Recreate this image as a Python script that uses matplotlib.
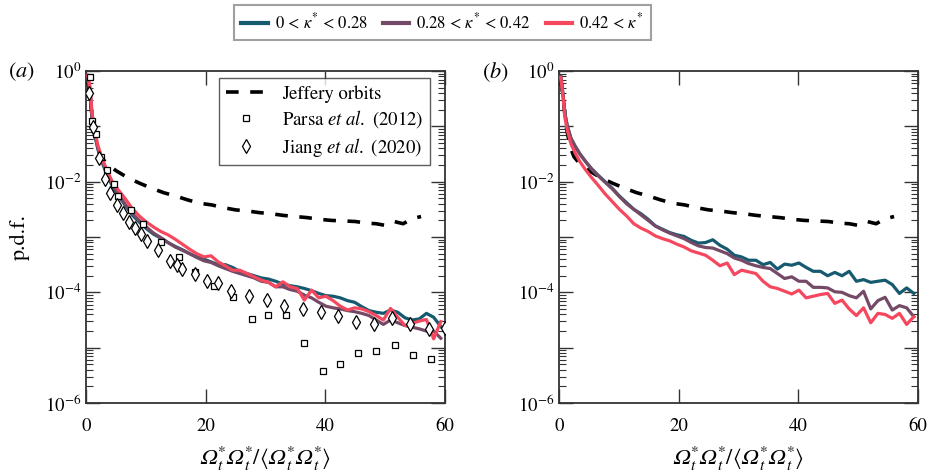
import numpy as np
import matplotlib
matplotlib.use("Agg")
import matplotlib.pyplot as plt
from matplotlib.ticker import LogLocator, FuncFormatter, NullFormatter, FixedLocator
from matplotlib.lines import Line2D

plt.rcParams['font.family'] = ['STIXGeneral', 'DejaVu Serif']
plt.rcParams['mathtext.fontset'] = 'custom'
plt.rcParams['mathtext.rm'] = 'STIXGeneral'
plt.rcParams['mathtext.it'] = 'STIXGeneral:italic'
plt.rcParams['mathtext.bf'] = 'STIXGeneral:bold'
plt.rcParams['mathtext.fallback'] = 'stix'

# ---------------- data ----------------
# common bin centres for the simulated curves
x_bins = [0.3, 0.7, 1.0, 1.4, 2.0, 2.7, 3.5, 4.4, 5.4, 6.5,
          7.7, 8.9, 10.1, 11.3, 12.5, 13.7, 14.9, 16.1, 17.3, 18.5,
          19.7, 20.9, 22.1, 23.3, 24.5, 25.7, 26.9, 28.1, 29.3, 30.5,
          31.7, 32.9, 34.1, 35.3, 36.5, 37.7, 38.9, 40.1, 41.3, 42.5,
          43.7, 44.9, 46.1, 47.3, 48.5, 49.7, 50.9, 52.1, 53.3, 54.5,
          55.7, 56.9, 58.1, 59.3]

# log10(p.d.f.) values, panel (a)
a_low = [-0.12, -0.40, -0.85, -1.12, -1.42, -1.65, -1.88, -2.08, -2.25, -2.42,
         -2.60, -2.73, -2.85, -2.95, -3.02, -3.10, -3.17, -3.23, -3.30, -3.36,
         -3.40, -3.45, -3.50, -3.50, -3.55, -3.62, -3.66, -3.70, -3.74, -3.76,
         -3.80, -3.85, -3.88, -3.90, -3.93, -3.97, -4.02, -4.06, -4.07, -4.10,
         -4.15, -4.18, -4.26, -4.33, -4.36, -4.38, -4.32, -4.36, -4.46, -4.50,
         -4.48, -4.38, -4.45, -4.62]
a_mid = [-0.12, -0.40, -0.85, -1.12, -1.40, -1.62, -1.85, -2.05, -2.22, -2.40,
         -2.57, -2.70, -2.82, -2.93, -3.01, -3.10, -3.18, -3.24, -3.30, -3.37,
         -3.43, -3.46, -3.52, -3.57, -3.62, -3.66, -3.70, -3.74, -3.80, -3.82,
         -3.90, -3.90, -3.95, -3.98, -4.05, -4.10, -4.18, -4.25, -4.28, -4.30,
         -4.33, -4.35, -4.38, -4.42, -4.50, -4.58, -4.50, -4.55, -4.60, -4.63,
         -4.66, -4.70, -4.70, -4.83]
a_high = [-0.08, -0.30, -0.75, -1.05, -1.35, -1.58, -1.80, -2.00, -2.15, -2.30,
          -2.48, -2.62, -2.73, -2.82, -2.90, -2.96, -3.04, -3.13, -3.22, -3.30,
          -3.36, -3.34, -3.45, -3.52, -3.60, -3.60, -3.66, -3.72, -3.78, -3.82,
          -3.90, -3.81, -3.90, -3.93, -4.14, -3.96, -4.10, -4.07, -4.15, -4.25,
          -4.32, -4.28, -4.30, -4.35, -4.42, -4.50, -4.29, -4.45, -4.60, -4.56,
          -4.52, -4.49, -4.84, -4.53]

# log10(p.d.f.) values, panel (b)
b_low = [-0.10, -0.45, -0.78, -1.00, -1.22, -1.36, -1.50, -1.63, -1.76, -1.88,
         -2.00, -2.12, -2.26, -2.38, -2.50, -2.58, -2.68, -2.80, -2.86, -2.92,
         -2.96, -2.99, -3.06, -3.11, -3.10, -3.05, -3.15, -3.22, -3.33, -3.36,
         -3.42, -3.42, -3.50, -3.46, -3.58, -3.49, -3.51, -3.47, -3.55, -3.62,
         -3.62, -3.70, -3.64, -3.70, -3.62, -3.80, -3.77, -3.82, -3.80, -3.78,
         -3.86, -4.02, -3.92, -4.02]
b_mid = [-0.10, -0.45, -0.78, -1.00, -1.22, -1.36, -1.50, -1.63, -1.77, -1.89,
         -2.01, -2.13, -2.27, -2.40, -2.50, -2.60, -2.70, -2.80, -2.87, -2.93,
         -2.98, -3.03, -3.10, -3.16, -3.19, -3.20, -3.25, -3.30, -3.38, -3.42,
         -3.48, -3.52, -3.55, -3.57, -3.66, -3.75, -3.72, -3.80, -3.80, -3.91,
         -3.91, -3.92, -3.99, -4.00, -4.06, -4.10, -3.98, -4.30, -4.15, -4.09,
         -4.32, -4.24, -4.28, -4.44]
b_high = [-0.12, -0.50, -0.85, -1.08, -1.32, -1.48, -1.64, -1.78, -1.92, -2.06,
          -2.22, -2.36, -2.50, -2.62, -2.76, -2.84, -2.90, -2.98, -3.03, -3.07,
          -3.13, -3.18, -3.25, -3.29, -3.33, -3.42, -3.52, -3.47, -3.68, -3.60,
          -3.63, -3.66, -3.80, -3.90, -3.93, -3.98, -4.03, -3.96, -4.10, -4.07,
          -4.04, -4.02, -4.20, -4.14, -4.30, -4.42, -4.28, -4.55, -4.38, -4.40,
          -4.47, -4.38, -4.58, -4.44]

# Jeffery orbits (log10 p.d.f.)
jeff_x = [0.3, 0.7, 1.2, 1.8, 2.5, 3.5, 5, 7, 9, 11, 13, 15, 17, 19, 21, 23, 25,
          27, 29, 31, 33, 35, 37, 39, 41, 43, 45, 47, 48.5, 50, 51.5, 53, 54.5, 56]
jeff_y = [-0.15, -0.50, -1.00, -1.35, -1.55, -1.68, -1.80, -1.93, -2.03, -2.12,
          -2.20, -2.26, -2.33, -2.39, -2.42, -2.47, -2.51, -2.53, -2.56, -2.58,
          -2.61, -2.63, -2.65, -2.68, -2.70, -2.71, -2.72, -2.75, -2.76, -2.79,
          -2.72, -2.76, -2.67, -2.63]

# Parsa et al. (2012)
parsa_x = [0.67, 0.95, 1.6, 2.45, 3.45, 4.6, 5.4, 7.5, 9.5, 12.5, 15.5, 18.3,
           21.4, 24.5, 27.7, 30.4, 33.5, 36.5, 39.6, 42.5, 45.5, 48.5, 51.6,
           54.6, 57.7]
parsa_y = [-0.11, -0.90, -1.13, -1.56, -1.79, -2.04, -2.26, -2.52, -2.77, -3.09,
           -3.36, -3.64, -3.88, -4.09, -4.48, -4.41, -4.41, -4.91, -5.42, -5.30,
           -5.09, -5.06, -4.95, -5.13, -5.20]

# Jiang et al. (2020)
jiang_x = [0.5, 1.2, 2.2, 3.2, 4.0, 5.1, 6.2, 7.2, 8.2, 9.2, 10.2, 12.1, 14.0,
           15.2, 16.1, 18.3, 20.3, 22.1, 24.2, 27.2, 30.2, 33.1, 36.2, 39.2,
           42.1, 45.2, 48.1, 51.1, 54.2, 57.3, 60.0]
jiang_y = [-0.40, -1.02, -1.57, -1.96, -2.20, -2.42, -2.57, -2.73, -2.84, -2.95,
           -3.08, -3.23, -3.43, -3.51, -3.58, -3.66, -3.80, -3.84, -3.97, -4.07,
           -4.13, -4.25, -4.30, -4.35, -4.43, -4.54, -4.57, -4.47, -4.58, -4.67,
           -4.64]

labels = [r'0 < $\kappa^{*}$ < 0.28', r'0.28 < $\kappa^{*}$ < 0.42', r'0.42 < $\kappa^{*}$']
colors = ['#155a6e', '#744a66', '#f5485f']

# ---------------- figure ----------------
fig = plt.figure(figsize=(9.31, 4.75), dpi=100)
W, H = 931, 475
axA = fig.add_axes([86 / W, 1 - 403 / H, 359 / W, 332 / H])
axB = fig.add_axes([559 / W, 1 - 403 / H, 359 / W, 332 / H])

def p(v):
    return 10.0 ** np.asarray(v)

OM = '\U0001D6FA'  # mathematical italic capital omega
XLAB = (r'$\mathrm{' + OM + r'}^{*}_{t}\mathrm{' + OM + r'}^{*}_{t}/\langle\mathrm{'
        + OM + r'}^{*}_{t}\mathrm{' + OM + r'}^{*}_{t}\rangle$')

def style(ax):
    ax.set_yscale('log')
    ax.set_xlim(0, 60)
    ax.set_ylim(1e-6, 1)
    ax.xaxis.set_major_locator(FixedLocator([0, 20, 40, 60]))
    ax.yaxis.set_major_locator(LogLocator(base=10, numticks=20))
    ax.yaxis.set_minor_locator(LogLocator(base=10, subs=np.arange(2, 10), numticks=20))
    ax.yaxis.set_major_formatter(FuncFormatter(
        lambda v, pos: (r'$\mathrm{10}^{\mathrm{%d}}$' % int(round(np.log10(v))))
        if int(round(np.log10(v))) % 2 == 0 else ''))
    ax.yaxis.set_minor_formatter(NullFormatter())
    ax.tick_params(which='both', direction='in', top=True, right=True,
                   labelsize=13.5, color='#333333')
    ax.tick_params(which='major', length=10, width=1.0)
    ax.tick_params(which='minor', length=5, width=0.8)
    ax.tick_params(axis='x', pad=11)
    for s in ax.spines.values():
        s.set_color('#333333')
        s.set_linewidth(1.3)
    ax.set_xlabel(XLAB, fontsize=16, labelpad=7)

for ax, series in [(axA, [a_low, a_mid, a_high]), (axB, [b_low, b_mid, b_high])]:
    style(ax)
    ax.plot(jeff_x, p(jeff_y), color='black', lw=2.6, ls=(0, (3.5, 3.2)),
            zorder=3)
    for s, c in zip(series, colors):
        ax.plot(x_bins, p(s), color=c, lw=2.3, zorder=4)

axA.plot(parsa_x, p(parsa_y), ls='none', marker='s', ms=4.0, mfc='white',
         mec='black', mew=0.9, zorder=5)
axA.plot(jiang_x, p(jiang_y), ls='none', marker='d', ms=7.0, mfc='white',
         mec='black', mew=0.9, zorder=5)

axA.set_ylabel('p.d.f.', fontsize=16, labelpad=11)

# inner legend panel (a)
h_in = [Line2D([], [], color='black', lw=2.6, ls=(0, (3.5, 3.2))),
        Line2D([], [], ls='none', marker='s', ms=4.0, mfc='white', mec='black', mew=0.9),
        Line2D([], [], ls='none', marker='d', ms=7.0, mfc='white', mec='black', mew=0.9)]
l_in = ['Jeffery orbits', r'Parsa $et\ al.$ (2012)', r'Jiang $et\ al.$ (2020)']
leg = axA.legend(h_in, l_in, loc='upper right', bbox_to_anchor=(0.957, 0.978),
                 fontsize=13.5, frameon=True, fancybox=False, handlelength=2.2,
                 borderpad=0.35, labelspacing=0.3, handletextpad=0.8, borderaxespad=0)
leg.get_frame().set_edgecolor('#333333')
leg.get_frame().set_linewidth(1.0)

# figure legend on top
h_top = [Line2D([], [], color=c, lw=3) for c in colors]
legt = fig.legend(h_top, labels, loc='upper left', bbox_to_anchor=(234 / W, 1 - 5 / H),
                  ncol=3, fontsize=12, frameon=True, fancybox=False,
                  handlelength=1.6, columnspacing=0.9, handletextpad=0.4,
                  borderpad=0.45, borderaxespad=0)
legt.get_frame().set_edgecolor('#888888')
legt.get_frame().set_linewidth(1.5)

fig.text(8 / W, 1 - 72 / H, r'($a$)', fontsize=16, va='center', ha='left')
fig.text(482 / W, 1 - 72 / H, r'($b$)', fontsize=16, va='center', ha='left')

fig.savefig('out.png', dpi=100)
